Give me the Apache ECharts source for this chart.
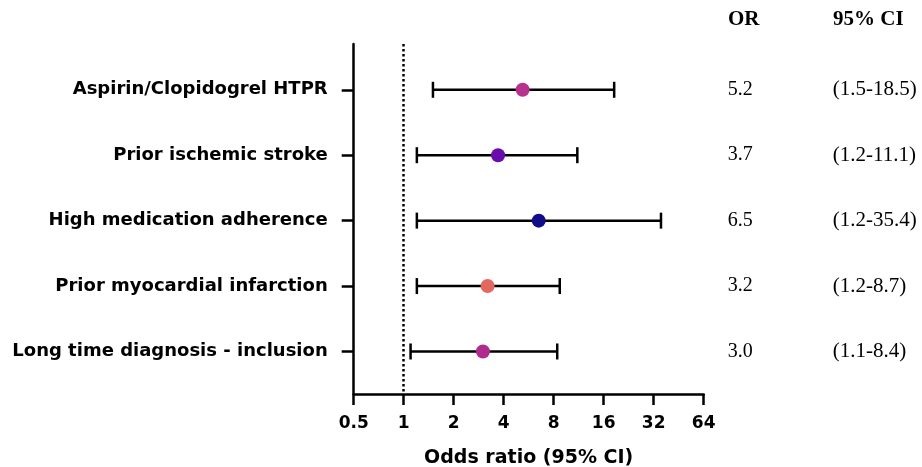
<!DOCTYPE html>
<html>
<head>
    <meta http-equiv="content-type" content="text/html;charset=utf-8">
    <script src="https://cdn.jsdelivr.net/npm/echarts@6/dist/echarts.min.js"></script>
    <style>
        html, body { margin: 0; padding: 0; background: #fff; }
        #forest { width: 922px; height: 467px; }
    </style>
</head>
<body>
<div id="forest"></div>
<script type="text/javascript">
    // data
    var categories = ['Aspirin/Clopidogrel HTPR', 'Prior ischemic stroke', 'High medication adherence',
        'Prior myocardial infarction', 'Long time diagnosis - inclusion'];
    var orValues = [5.2, 3.7, 6.5, 3.2, 3.0];
    var ciLow = [1.5, 1.2, 1.2, 1.2, 1.1];
    var ciHigh = [18.5, 11.1, 35.4, 8.7, 8.4];
    var pointColors = ['#b8318f', '#6a0bab', '#110c8a', '#e3685f', '#b02b8d'];
    var xTicks = [0.5, 1, 2, 4, 8, 16, 32, 64];

    var rows = categories.map(function (c, i) { return i + 1; });

    var chart = echarts.init(document.getElementById('forest'));

    var serifFont = "'Liberation Serif', 'Times New Roman', serif";
    var sansFont = "'DejaVu Sans', Arial, sans-serif";

    // y positions shared by left and right axes
    var yBase = {
        type: 'value',
        inverse: true,
        min: 0.3,
        max: 5.65,
        splitLine: { show: false }
    };

    var option = {
        animation: false,
        grid: { left: 353.7, right: 218.3, top: 44, bottom: 73, containLabel: false, outerBoundsMode: 'none' },
        xAxis: {
            type: 'log',
            logBase: 2,
            min: 0.5,
            max: 64,
            name: 'Odds ratio (95% CI)',
            nameLocation: 'middle',
            nameGap: 55,
            nameTextStyle: { fontFamily: sansFont, fontWeight: 'bold', fontSize: 19, color: '#000' },
            axisLine: { lineStyle: { color: '#000', width: 2.5 } },
            axisTick: { length: 11, lineStyle: { color: '#000', width: 2.5 }, customValues: xTicks },
            axisLabel: {
                customValues: xTicks,
                margin: 21,
                fontFamily: sansFont, fontWeight: 'bold', fontSize: 17, color: '#000',
                formatter: function (v) { return String(Math.round(v * 10) / 10); }
            },
            splitLine: { show: false },
            minorTick: { show: false }
        },
        yAxis: [
            Object.assign({}, yBase, {
                position: 'left',
                axisLine: { show: true, lineStyle: { color: '#000', width: 2.5 } },
                axisTick: { show: true, length: 12, lineStyle: { color: '#000', width: 2.5 }, customValues: rows },
                axisLabel: {
                    customValues: rows,
                    margin: 26,
                    fontFamily: sansFont, fontWeight: 'bold', fontSize: 18, color: '#000',
                    formatter: function (v) { return categories[Math.round(v) - 1]; }
                }
            }),
            Object.assign({}, yBase, {
                position: 'right',
                offset: 0,
                axisLine: { show: false },
                axisTick: { show: false },
                axisLabel: {
                    customValues: rows,
                    margin: 24,
                    padding: [0, 0, 4, 0],
                    fontFamily: serifFont, fontSize: 20, color: '#000',
                    formatter: function (v) { return orValues[Math.round(v) - 1].toFixed(1); }
                }
            }),
            Object.assign({}, yBase, {
                position: 'right',
                offset: 100,
                axisLine: { show: false },
                axisTick: { show: false },
                axisLabel: {
                    customValues: rows,
                    margin: 29,
                    padding: [0, 0, 4, 0],
                    fontFamily: serifFont, fontSize: 21, color: '#000',
                    formatter: function (v) {
                        var i = Math.round(v) - 1;
                        return '(' + ciLow[i].toFixed(1) + '-' + ciHigh[i].toFixed(1) + ')';
                    }
                }
            })
        ],
        graphic: [
            { type: 'text', left: 728, top: 9, style: { text: 'OR', font: 'bold 21px ' + serifFont, fill: '#000' } },
            { type: 'text', left: 833, top: 9, style: { text: '95% CI', font: 'bold 21px ' + serifFont, fill: '#000' } }
        ],
        series: [
            {
                type: 'custom',
                name: 'ci',
                encode: { x: [1, 2], y: 0 },
                data: rows.map(function (r, i) { return [r, ciLow[i], ciHigh[i]]; }),
                renderItem: function (params, api) {
                    var y = api.value(0);
                    var p1 = api.coord([api.value(1), y]);
                    var p2 = api.coord([api.value(2), y]);
                    var st = { stroke: '#000', lineWidth: 2.5 };
                    return {
                        type: 'group',
                        children: [
                            { type: 'line', shape: { x1: p1[0], y1: p1[1], x2: p2[0], y2: p2[1] }, style: st },
                            { type: 'line', shape: { x1: p1[0], y1: p1[1] - 8, x2: p1[0], y2: p1[1] + 8 }, style: st },
                            { type: 'line', shape: { x1: p2[0], y1: p2[1] - 8, x2: p2[0], y2: p2[1] + 8 }, style: st }
                        ]
                    };
                },
                markLine: {
                    silent: true,
                    symbol: 'none',
                    label: { show: false },
                    lineStyle: { color: '#000', width: 2.5, type: [2.5, 2.5] },
                    data: [{ xAxis: 1 }]
                }
            },
            {
                type: 'scatter',
                name: 'or',
                symbolSize: 14,
                z: 5,
                data: rows.map(function (r, i) {
                    return { value: [orValues[i], r], itemStyle: { color: pointColors[i], opacity: 1 } };
                })
            }
        ]
    };

    chart.setOption(option);
</script>
</body>
</html>
